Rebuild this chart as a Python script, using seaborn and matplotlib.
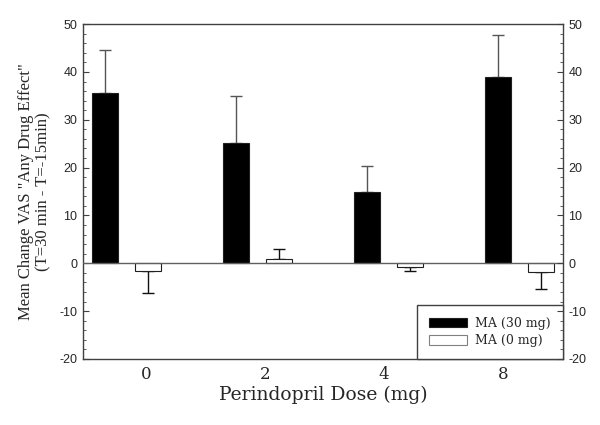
import numpy as np
import pandas as pd
import matplotlib
matplotlib.use("Agg")
import matplotlib.pyplot as plt
import seaborn as sns
from matplotlib.patches import Patch
from matplotlib.ticker import MultipleLocator

#%% datos
doses = ["0", "2", "4", "8"]
ma30_mean = [35.5, 25.2, 14.9, 38.9]
ma30_sem = [9.0, 9.7, 5.4, 8.9]
ma0_mean = [-1.7, 1.0, -0.8, -1.9]
ma0_sem = [4.5, 1.9, 0.9, 3.5]
groups = ["MA (30 mg)", "MA (0 mg)"]

df = pd.DataFrame({
    "dose": doses * 2,
    "value": ma30_mean + ma0_mean,
    "group": [groups[0]] * 4 + [groups[1]] * 4,
})
errs = {groups[0]: ma30_sem, groups[1]: ma0_sem}

#%% figura
sns.set_style("white")
plt.rcParams["font.family"] = ["Liberation Sans", "DejaVu Sans"]
plt.rcParams["axes.unicode_minus"] = False

fig = plt.figure(figsize=(6, 4.25), dpi=100)
ax = fig.add_axes([0.1383, 0.1553, 0.8, 0.788])

sns.barplot(data=df, x="dose", y="value", hue="group", order=doses,
            hue_order=groups, palette=["black", "white"], width=2/3, gap=0.4,
            errorbar=None, edgecolor="#202020", linewidth=0.8, legend=False,
            ax=ax, zorder=3)

# barras de error (solo hacia un lado)
for cont, g, ecol in zip(ax.containers, groups, ["#555555", "#111111"]):
    for bar, e in zip(cont, errs[g]):
        h = bar.get_height()
        xc = bar.get_x() + bar.get_width() / 2
        yerr = [[0], [e]] if h >= 0 else [[e], [0]]
        ax.errorbar(xc, h, yerr=yerr, fmt="none", ecolor=ecol,
                    elinewidth=1.0, capsize=4, capthick=1.0, zorder=2)

ax.axhline(0, color="#606060", lw=1.0, zorder=4)

ax.set_xlim(-0.332, 3.332)
ax.set_ylim(-20, 50)
ax.yaxis.set_major_locator(MultipleLocator(10))
ax.yaxis.set_minor_locator(MultipleLocator(2))
ax.tick_params(axis="y", which="both", direction="in", labelsize=9,
               pad=4, color="#404040")
ax.tick_params(axis="y", which="major", length=4)
ax.tick_params(axis="y", which="minor", length=2.5, left=True)

ax.set_xticks(np.linspace(0.154, 2.872, 4))
ax.set_xticklabels(doses, family="DejaVu Serif", fontsize=12)
ax.tick_params(axis="x", length=0, pad=5)

ax.set_xlabel("Perindopril Dose (mg)", family="DejaVu Serif", fontsize=13.5,
              labelpad=2)
ax.set_ylabel('Mean Change VAS "Any Drug Effect"\n(T=30 min - T=-15min)',
              family="Liberation Serif", fontsize=12, linespacing=1.05,
              labelpad=6)

for s in ax.spines.values():
    s.set_color("#404040")
    s.set_linewidth(1.0)

ax2 = ax.twinx()
ax2.set_ylim(-20, 50)
ax2.yaxis.set_major_locator(MultipleLocator(10))
ax2.yaxis.set_minor_locator(MultipleLocator(2))
ax2.tick_params(axis="y", which="both", direction="in", labelsize=9,
                pad=4, color="#404040")
ax2.tick_params(axis="y", which="major", length=4)
ax2.tick_params(axis="y", which="minor", length=2.5)
for s in ax2.spines.values():
    s.set_visible(False)

handles = [Patch(facecolor="black", edgecolor="#202020", lw=0.8),
           Patch(facecolor="white", edgecolor="#808080", lw=0.8)]
leg = ax.legend(handles, groups, loc="lower right", bbox_to_anchor=(1.0, 0.0),
                frameon=True, fancybox=False, framealpha=1,
                prop={"family": "DejaVu Serif", "size": 9},
                handlelength=3.0, handleheight=0.8, borderpad=0.95,
                labelspacing=0.35, handletextpad=0.7, borderaxespad=0.0)
leg.get_frame().set_edgecolor("#404040")
leg.get_frame().set_linewidth(1.0)
leg.set_zorder(5)

plt.savefig("out.png", dpi=100)
